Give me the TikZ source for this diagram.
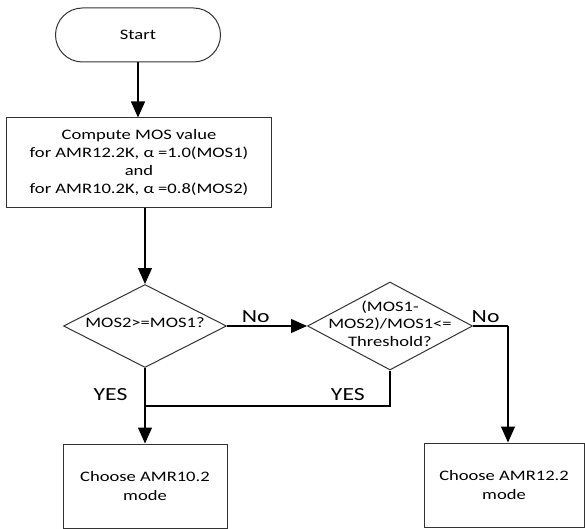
\documentclass[tikz,border=0pt]{standalone}
\usepackage{fontspec}
\setmainfont[FakeStretch=1.28]{Carlito}
\usetikzlibrary{shapes.geometric,arrows.meta}
\pgfdeclarelayer{nodelayer}
\pgfdeclarelayer{edgelayer}
\pgfsetlayers{edgelayer,nodelayer,main}
\tikzstyle{terminal}=[fill=white, draw=black!80, line width=1bp, rounded corners=27bp, minimum width=165bp, minimum height=54bp, font=\fontsize{14.5bp}{18bp}\selectfont]
\tikzstyle{process}=[fill=white, draw=black!80, line width=1bp, shape=rectangle, align=center, inner sep=0pt, font=\fontsize{14.5bp}{18.3bp}\selectfont]
\tikzstyle{decision}=[fill=white, draw=black!80, line width=1bp, shape=diamond, inner sep=0pt, font=\fontsize{14.5bp}{17.5bp}\selectfont]
\tikzstyle{directed edge}=[-{Triangle[width=14bp,length=16bp]}, line width=1.2bp]
\tikzstyle{plain edge}=[line width=1.2bp]
\tikzstyle{branch}=[font=\fontsize{18.5bp}{20bp}\selectfont, inner sep=3bp]
\newcommand{\dtext}[2][-3bp]{\raisebox{#1}{\smash{\makebox[0pt]{\begin{tabular}{@{}c@{}}#2\end{tabular}}}}}

\begin{document}
\begin{tikzpicture}[x=1bp, y=-1bp]
    	\useasboundingbox (0, 0) rectangle (585, 529);
    	\begin{pgfonlayer}{nodelayer}
    		\node [style=terminal] (0) at (138, 35) {Start};
    		\node [style=process, minimum width=264bp, minimum height=89bp] (1) at (139, 162.5) {Compute MOS value\\ for AMR12.2K, α =1.0(MOS1)\\ and\\ for AMR10.2K, α =0.8(MOS2)};
    		\node [style=decision, minimum width=163bp, minimum height=83bp] (2) at (145, 326) {\dtext{MOS2>=MOS1?}};
    		\node [style=decision, minimum width=165bp, minimum height=88bp] (3) at (390, 326) {\dtext[-6bp]{(MOS1-\\ MOS2)/MOS1<=\\ Threshold?}};
    		\node [style=process, minimum width=164bp, minimum height=84bp, font=\fontsize{14.5bp}{19bp}\selectfont] (4) at (145, 486) {Choose AMR10.2\\ mode};
    		\node [style=process, minimum width=160bp, minimum height=84bp, font=\fontsize{14.5bp}{19bp}\selectfont] (5) at (504, 485) {Choose AMR12.2\\ mode};
    		\coordinate (j) at (145, 406);
    		\coordinate (k) at (508, 326);
    	\end{pgfonlayer}
    	\begin{pgfonlayer}{edgelayer}
    		\draw [style=directed edge] (0.south) to (0.south |- 1.north);
    		\draw [style=directed edge] (1.south -| 2.north) to (2.north);
    		\draw [style=directed edge] (2.east) to node [style=branch, above, pos=0.36] {No} (3.west);
    		\draw [style=plain edge] (3.east) to node [style=branch, above, pos=0.36] {No} (k);
    		\draw [style=directed edge] (k) to (k |- 5.north);
    		\draw [style=directed edge] (2.south) to node [style=branch, left=14bp, pos=0.35] {YES} (4.north);
    		\draw [style=plain edge] (3.south) |- node [style=branch, above, inner sep=5bp, pos=0.586] {YES} (j);
    	\end{pgfonlayer}
\end{tikzpicture}
\end{document}
